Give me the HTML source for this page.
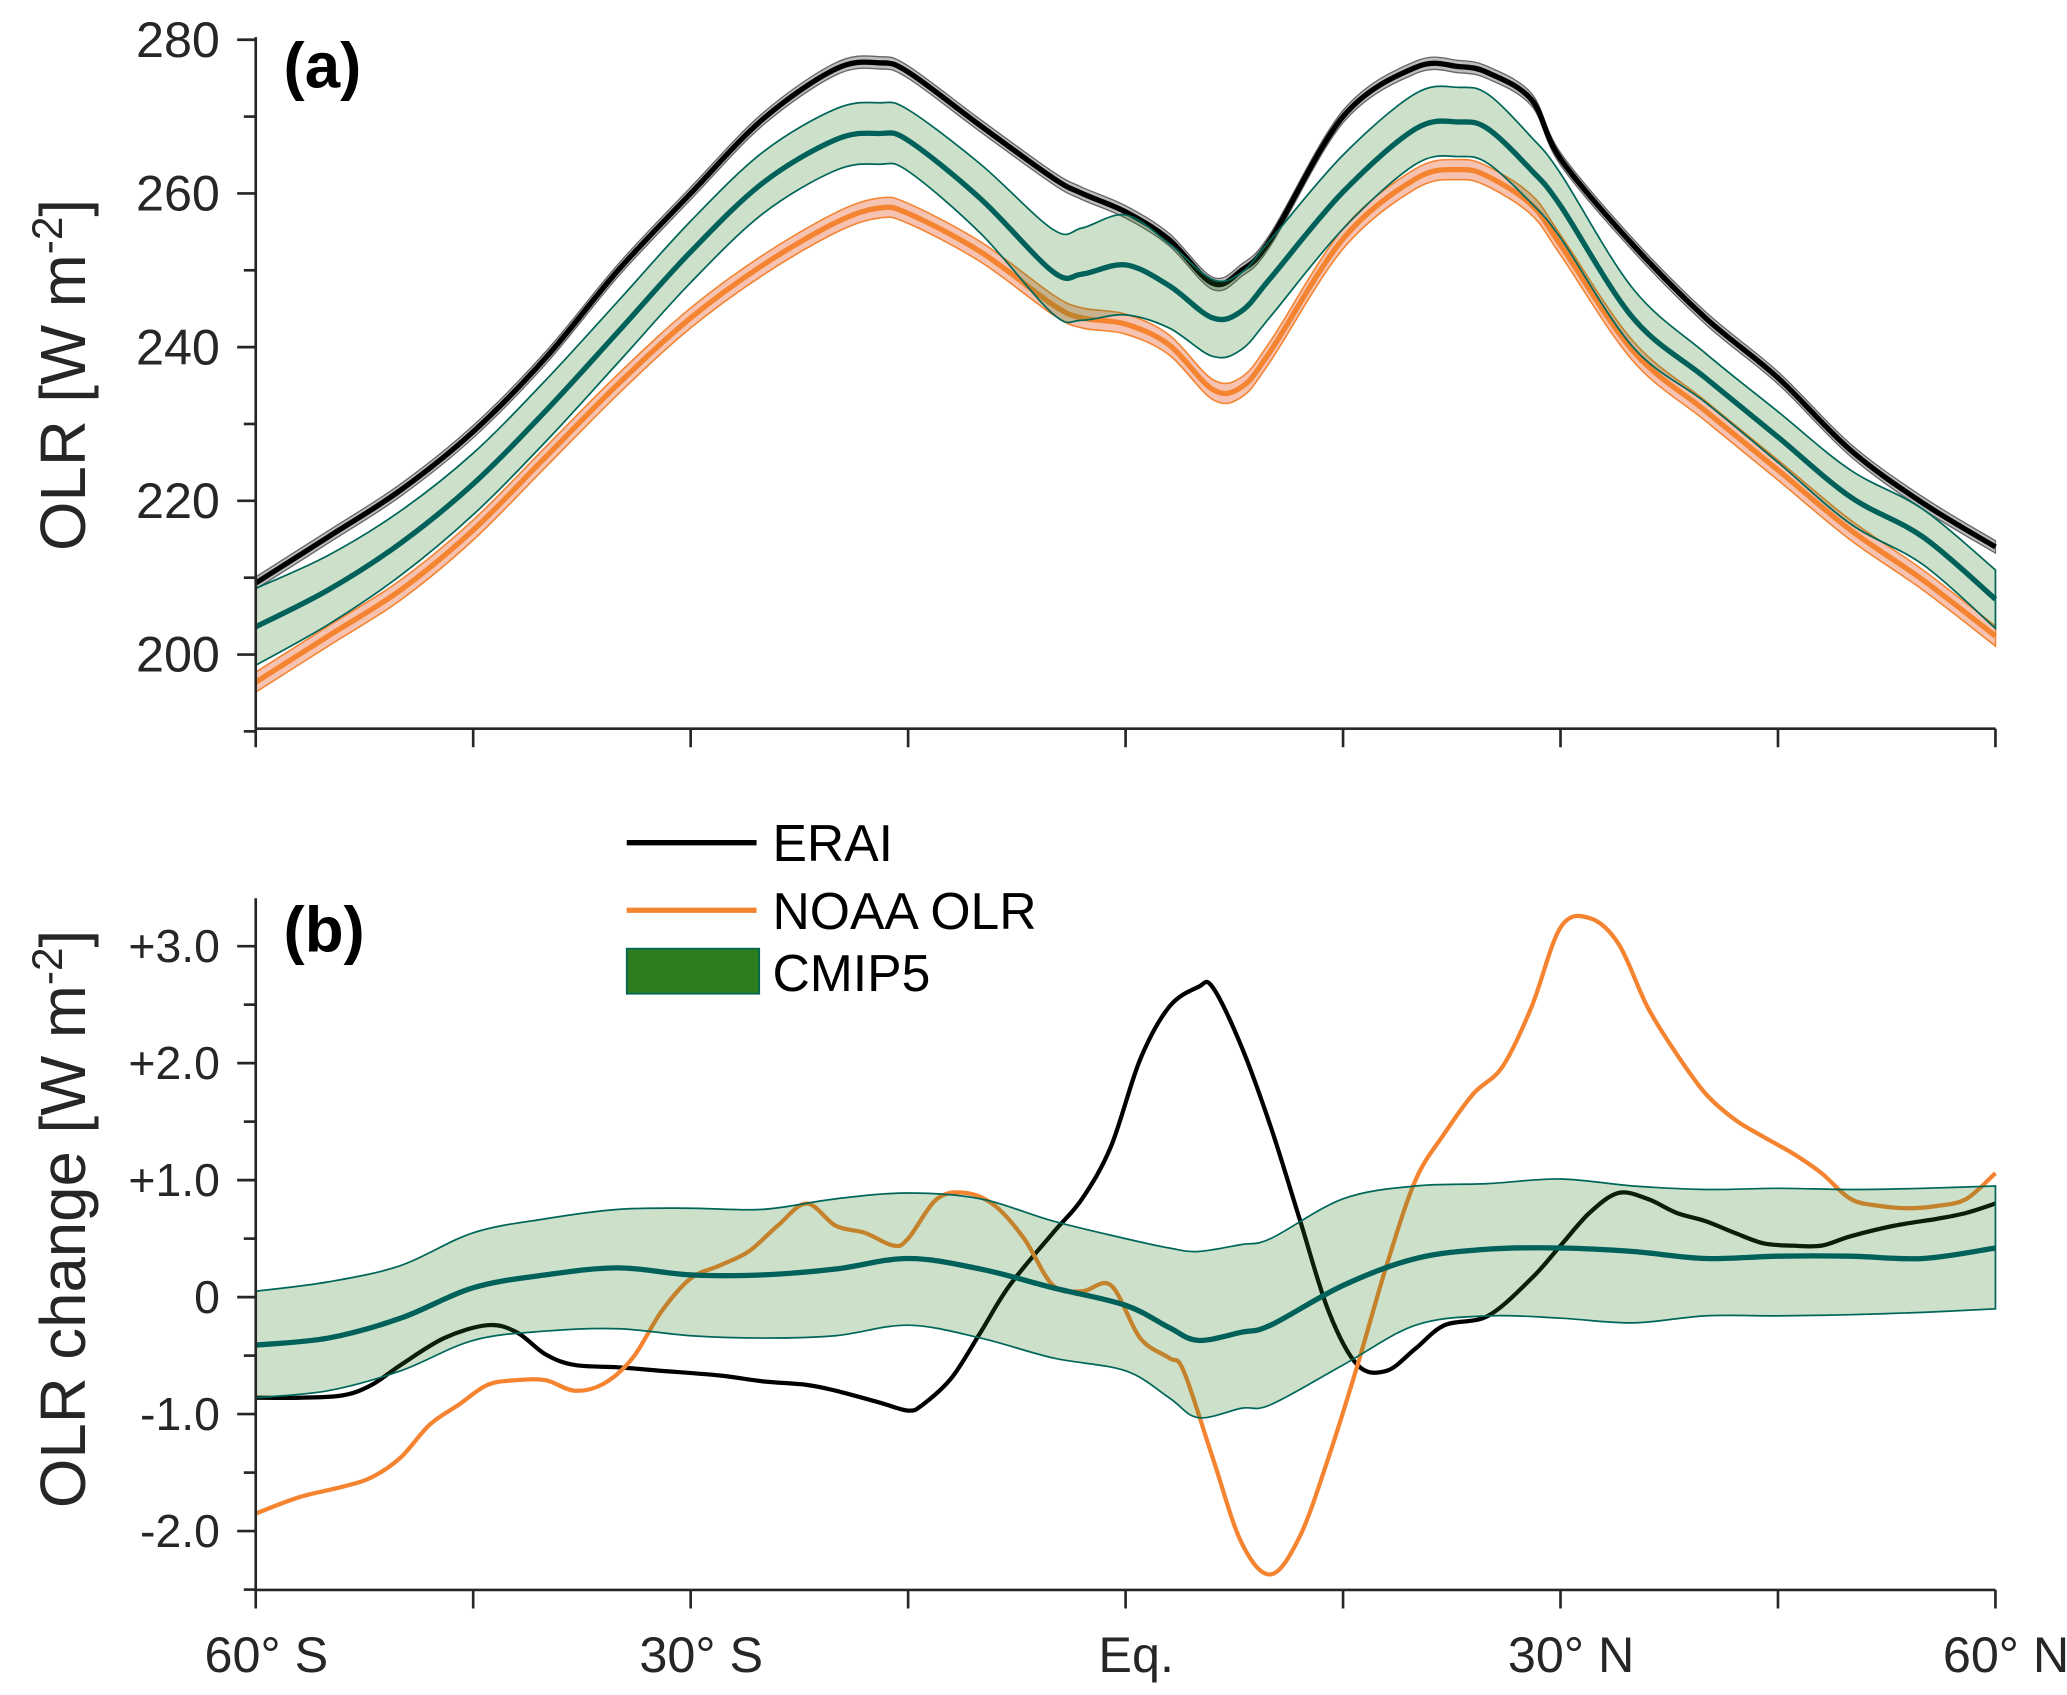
<!DOCTYPE html>
<html><head><meta charset="utf-8"><style>
html,body{margin:0;padding:0;background:#fff}
svg{display:block}
text{font-family:"Liberation Sans",sans-serif;fill:#262626}
</style></head><body>
<svg id="chart" width="2067" height="1695" viewBox="0 0 1560 1279.3" preserveAspectRatio="none" xmlns="http://www.w3.org/2000/svg"></svg>
<script>
// ---------- Data ----------
const latA = [-60,-55,-50,-45,-40,-35,-30,-25,-20,-17,-15,-10,-5,-3,0,3,6,8,10,15,20,23,25,28,30,35,40,45,50,55,60];
const eraiA = [209.3,215.3,221.4,229,238.6,250,260,269.7,276.2,277,275.8,268.8,262,260,257.6,254,248.3,250,254,270,276.4,276.5,275.7,272.2,264.5,253.3,243.8,236,226.6,219.7,214];
const cmipA = [203.6,208.4,214.5,222.2,231.7,242,252.4,261.4,267,267.8,266.9,259.3,249.8,249.5,250.7,248,243.8,244.7,249,260.2,268.4,269.3,268.4,263,258.4,243.8,236,228.3,220.5,215.3,207.2];
const cmipSpreadA = [5,4.5,4.2,4,4,4,4,4,4,4,4,4.5,5.5,6,6.5,5.5,5,5,5,4.8,4.6,4.5,4.5,4.3,4.2,3.8,3.2,3.3,3.5,3.6,3.8];
const noaaA = [196.4,202.4,208.4,216.2,225.7,235.2,243.8,250.7,256.2,258.1,257.4,252.4,245.5,243.8,243,240.3,234.5,234.8,239.5,254.1,261.9,263.1,262.2,258.5,253.3,239.5,231.7,224,216.2,209.7,202.4];

const latErai = [-60,-57,-54,-52,-50,-47,-44,-42,-40,-38,-35,-32,-28,-25,-22,-20,-17,-15,-14,-12,-10,-8,-5,-3,-1,1,3,5,6,8,10,12,14,16,18,20,22,25,28,30,32,34,36,38,40,42,44,46,48,50,53,56,58,60];
const eraiB = [-0.86,-0.86,-0.84,-0.75,-0.58,-0.35,-0.24,-0.3,-0.49,-0.58,-0.6,-0.63,-0.67,-0.72,-0.75,-0.8,-0.9,-0.97,-0.92,-0.69,-0.3,0.1,0.55,0.84,1.29,2.03,2.48,2.65,2.65,2.14,1.46,0.67,-0.12,-0.58,-0.63,-0.44,-0.24,-0.16,0.16,0.44,0.72,0.89,0.84,0.72,0.65,0.55,0.46,0.44,0.44,0.52,0.61,0.67,0.72,0.8];
const latNoaa = [-60,-57,-54,-52,-50,-48,-46,-44,-42,-40,-38,-36,-34,-32,-30,-28,-26,-24,-22,-20,-18,-16,-15,-13,-11,-9,-7,-5,-3,-1,1,3,4,6,8,10,12,14,16,18,20,22,24,26,28,30,32,34,36,38,40,42,44,46,48,50,52,54,56,58,60];
const noaaB = [-1.85,-1.71,-1.62,-1.54,-1.37,-1.09,-0.92,-0.75,-0.71,-0.71,-0.8,-0.74,-0.52,-0.12,0.16,0.27,0.39,0.61,0.8,0.61,0.55,0.44,0.5,0.84,0.89,0.78,0.5,0.1,0.05,0.1,-0.35,-0.52,-0.63,-1.37,-2.1,-2.37,-2.05,-1.37,-0.58,0.27,1.0,1.4,1.74,1.97,2.48,3.16,3.24,3.02,2.48,2.08,1.74,1.52,1.37,1.23,1.06,0.84,0.78,0.76,0.78,0.84,1.06];
const latB = [-60,-55,-50,-45,-40,-35,-30,-25,-20,-15,-10,-5,0,3,5,8,10,15,20,25,30,35,40,45,50,55,60];
const cmipB = [-0.41,-0.35,-0.18,0.08,0.19,0.25,0.19,0.19,0.24,0.33,0.24,0.08,-0.07,-0.26,-0.37,-0.3,-0.24,0.1,0.33,0.41,0.42,0.39,0.33,0.35,0.35,0.33,0.42];
const cmipUpB = [0.05,0.13,0.27,0.55,0.67,0.75,0.76,0.75,0.84,0.89,0.84,0.65,0.5,0.42,0.39,0.45,0.5,0.84,0.95,0.97,1.01,0.95,0.92,0.93,0.92,0.93,0.95];
const cmipLoB = [-0.86,-0.8,-0.63,-0.37,-0.29,-0.27,-0.33,-0.35,-0.33,-0.24,-0.35,-0.52,-0.63,-0.86,-1.03,-0.95,-0.92,-0.58,-0.24,-0.16,-0.18,-0.22,-0.16,-0.16,-0.15,-0.13,-0.1];

const xTicks = [-60,-45,-30,-15,0,15,30,45,60];
const xTickLabels = {"-60":"60° S","-30":"30° S","0":"Eq.","30":"30° N","60":"60° N"};
const yTicksA = [200,220,240,260,280];
const yTicksB = [-2,-1,0,1,2,3];
const yTickLabelsB = ["-2.0","-1.0","0","+1.0","+2.0","+3.0"];

// ---------- Axes ----------
const X0=193, X1=1506;
const xs = lat => X0 + (lat+60)/120*(X1-X0);
const ya = v => 30 + (280-v)*5.8;
const yb = v => 979 - v*88.3;

const svg = document.getElementById('chart');
const NS='http://www.w3.org/2000/svg';
function mk(tag, attrs, parent){
  const e=document.createElementNS(NS,tag);
  for(const k in attrs) e.setAttribute(k,attrs[k]);
  (parent||svg).appendChild(e); return e;
}
function smooth(pts){
  let d='M'+pts[0][0].toFixed(2)+','+pts[0][1].toFixed(2);
  for(let i=0;i<pts.length-1;i++){
    const p0=pts[Math.max(i-1,0)],p1=pts[i],p2=pts[i+1],p3=pts[Math.min(i+2,pts.length-1)];
    const c1=[p1[0]+(p2[0]-p0[0])/6,p1[1]+(p2[1]-p0[1])/6];
    const c2=[p2[0]-(p3[0]-p1[0])/6,p2[1]-(p3[1]-p1[1])/6];
    d+=' C'+c1.map(v=>v.toFixed(2))+' '+c2.map(v=>v.toFixed(2))+' '+p2[0].toFixed(2)+','+p2[1].toFixed(2);
  }
  return d;
}
function linePath(lats, vals, yf){ return smooth(lats.map((l,i)=>[xs(l),yf(vals[i])])); }
function bandPath(lats, up, lo, yf){
  const top = lats.map((l,i)=>[xs(l),yf(up[i])]);
  const bot = lats.map((l,i)=>[xs(l),yf(lo[i])]).reverse();
  return smooth(top)+' L'+smooth(bot).slice(1)+' Z';
}

// ---------- Panel a ----------
const gA = mk('g',{});


let e;
e=mk('path',{d:bandPath(latA,eraiA.map(v=>v+0.8),eraiA.map(v=>v-0.8),ya),fill:'#bdbdbd',stroke:'#666','stroke-width':1},gA);
 
e=mk('path',{d:linePath(latA,eraiA,ya),fill:'none',stroke:'#000','stroke-width':4},gA);
 
e=mk('path',{d:bandPath(latA,noaaA.map(v=>v+1.3),noaaA.map(v=>v-1.3),ya),fill:'#f6c3b2',stroke:'#f58431','stroke-width':1.2},gA);
 
e=mk('path',{d:linePath(latA,noaaA,ya),fill:'none',stroke:'#f58431','stroke-width':4},gA);
 
e=mk('path',{d:bandPath(latA,cmipA.map((v,i)=>v+cmipSpreadA[i]),cmipA.map((v,i)=>v-cmipSpreadA[i]),ya),fill:'#2e7d1e','fill-opacity':0.24,stroke:'#00665a','stroke-width':1.3},gA);
 
e=mk('path',{d:linePath(latA,cmipA,ya),fill:'none',stroke:'#00605a','stroke-width':4},gA);
 

// ---------- Panel b ----------
const gB = mk('g',{});


e=mk('path',{d:linePath(latErai,eraiB,yb),fill:'none',stroke:'#000','stroke-width':3.2,'stroke-linejoin':'round'},gB);
 
e=mk('path',{d:linePath(latNoaa,noaaB,yb),fill:'none',stroke:'#f58431','stroke-width':3.2,'stroke-linejoin':'round'},gB);
 
e=mk('path',{d:bandPath(latB,cmipUpB,cmipLoB,yb),fill:'#2e7d1e','fill-opacity':0.24,stroke:'#00665a','stroke-width':1.3},gB);
 
e=mk('path',{d:linePath(latB,cmipB,yb),fill:'none',stroke:'#00605a','stroke-width':4},gB);
 

// ---------- Axes drawing ----------
function axes(yTop,yBot,prefix){
  const g=mk('g',{stroke:'#262626','stroke-width':2,fill:'none'});
   
  mk('line',{x1:X0,y1:yTop,x2:X0,y2:yBot},g);
  mk('line',{x1:X0,y1:yBot,x2:X1,y2:yBot},g);
  xTicks.forEach(t=>{ mk('line',{x1:xs(t),y1:yBot,x2:xs(t),y2:yBot+14},g); });
  return g;
}
axes(28,550,'panel-a');
axes(678,1200,'panel-b');
for(let v=190; v<=280; v+=10){
  const y=ya(v); const major = v%20===0;
  mk('line',{x1:X0-(major?14:9),y1:y,x2:X0,y2:y,stroke:'#262626','stroke-width':2});
}
yTicksA.forEach(v=>{
  const t=mk('text',{x:X0-27,y:ya(v)+13,'text-anchor':'end','font-size':38});
  t.textContent=v;
   
});
for(let v=-2.5; v<=3.3; v+=0.5){
  const y=yb(v); const major = Math.abs(v-Math.round(v))<1e-6;
  mk('line',{x1:X0-(major?14:9),y1:y,x2:X0,y2:y,stroke:'#262626','stroke-width':2});
}
yTicksB.forEach((v,i)=>{
  const t=mk('text',{x:X0-27,y:yb(v)+12,'text-anchor':'end','font-size':35});
  t.textContent=yTickLabelsB[i];
   
});
xTicks.forEach(v=>{
  const s=xTickLabels[String(v)]; if(!s) return;
  const t=mk('text',{x:xs(v)+8,y:1262,'text-anchor':'middle','font-size':38});
  t.textContent=s;
   
});
</script>
<svg style="position:absolute;left:0;top:0" width="2067" height="1695" viewBox="0 0 1560 1279.3" preserveAspectRatio="none" xmlns="http://www.w3.org/2000/svg">
  <text x="214" y="66" font-size="48" font-weight="bold" style="fill:#000">(a)</text>
  <text x="214" y="718" font-size="48" font-weight="bold" style="fill:#000">(b)</text>
  <text transform="translate(64,283) rotate(-90)" text-anchor="middle" font-size="48">OLR  [W m<tspan baseline-shift="super" font-size="32">-2</tspan>]</text>
  <text transform="translate(64,920) rotate(-90)" text-anchor="middle" font-size="48">OLR change  [W m<tspan baseline-shift="super" font-size="32">-2</tspan>]</text>
  <g>
    <line x1="473" y1="636" x2="571" y2="636" stroke="#000" stroke-width="4"/>
    <text x="583" y="650" font-size="39" style="fill:#000">ERAI</text>
    <line x1="473" y1="687" x2="571" y2="687" stroke="#f58431" stroke-width="4"/>
    <text x="583" y="701" font-size="39" style="fill:#000">NOAA OLR</text>
    <rect x="473" y="716" width="100" height="34" fill="#2e7d1e" stroke="#00665a" stroke-width="1.3"/>
    <text x="583" y="748" font-size="39" style="fill:#000">CMIP5</text>
  </g>
</svg>
</body></html>
